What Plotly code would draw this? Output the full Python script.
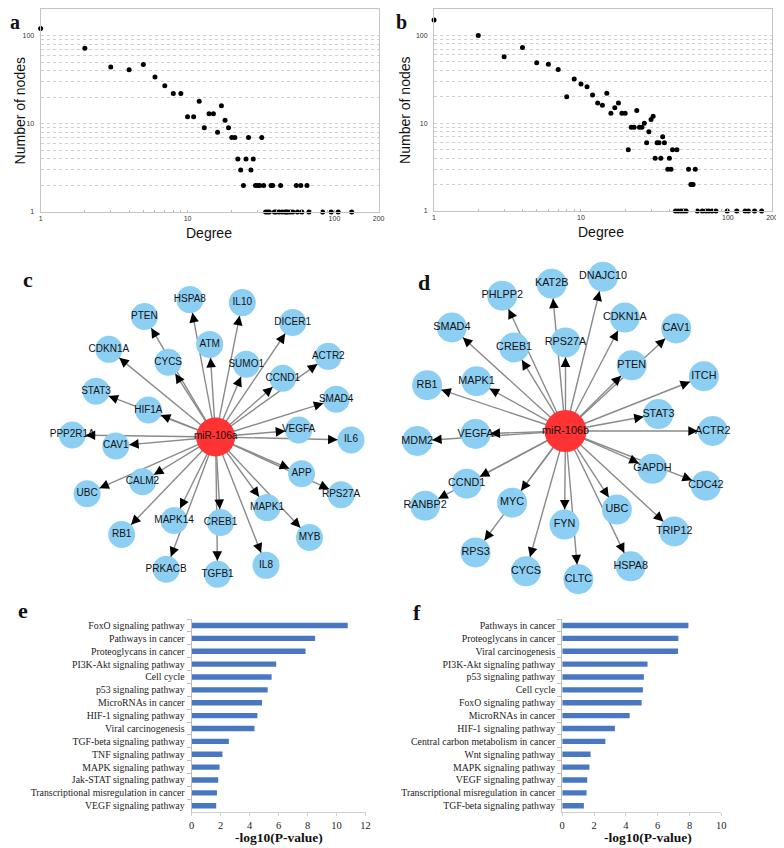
import math
import plotly.graph_objects as go

# degree distributions (panels a, b)
deg_a = [1, 2, 3, 4, 5, 6, 7, 8, 9, 10, 11, 12, 13, 14, 15, 16, 17, 18, 19, 20,
         21, 22, 23, 24, 25, 26, 27, 28, 29, 30, 31, 32, 33, 37, 38, 43, 55, 59, 65,
         34, 35, 36, 39, 40, 42, 44, 46, 47, 48, 50, 52, 56, 60, 67, 83, 95, 106, 131]
nodes_a = [120, 72, 44, 41, 47, 34, 27, 22, 22, 12, 12, 18, 9, 13, 13, 8, 16, 11, 9, 7,
           7, 4, 3, 2, 4, 7, 3, 4, 2, 2, 2, 7, 2, 2, 2, 2, 2, 2, 2,
           1, 1, 1, 1, 1, 1, 1, 1, 1, 1, 1, 1, 1, 1, 1, 1, 1, 1, 1]

deg_b = [1, 2, 3, 4, 5, 6, 7, 8, 9, 10, 11, 12, 13, 14, 15, 16, 17, 18, 19, 20,
         21, 22, 23, 24, 25, 26, 27, 28, 29, 30, 31, 32, 33, 34, 35, 36, 37, 39, 40,
         41, 42, 45, 54, 56, 57, 58, 60,
         44, 46, 48, 50, 52, 62, 67, 71, 74, 78, 83, 99, 115, 131, 138, 152, 170]
nodes_b = [150, 100, 57, 73, 49, 47, 41, 20, 32, 28, 26, 21, 17, 16, 22, 13, 15, 17, 13, 13,
           5, 9, 9, 14, 9, 9, 10, 6, 8, 11, 12, 4, 6, 6, 4, 7, 6, 3, 4,
           3, 5, 5, 3, 2, 2, 2, 3,
           1, 1, 1, 1, 1, 1, 1, 1, 1, 1, 1, 1, 1, 1, 1, 1, 1]

log_ticks = [1, 2, 3, 4, 5, 6, 7, 8, 9, 10, 20, 30, 40, 50, 60, 70, 80, 90, 100, 200]
log_labels = ["1", "", "", "", "", "", "", "", "", "10",
              "", "", "", "", "", "", "", "", "100", "200"]

# miR-106a network (panel c), layout coordinates relative to the hub
hub_c = "miR-106a"
genes_c = ["HSPA8", "IL10", "PTEN", "DICER1", "ATM", "CDKN1A", "ACTR2", "CYCS", "SUMO1",
           "CCND1", "STAT3", "SMAD4", "HIF1A", "VEGFA", "PPP2R1A", "CAV1", "IL6", "APP",
           "CALM2", "UBC", "RPS27A", "MAPK1", "MAPK14", "CREB1", "RB1", "MYB", "IL8",
           "PRKACB", "TGFB1"]
gx_c = [-26, 27, -72, 78, -6, -108, 114, -48, 31, 68, -121, 122, -68, 84, -145, -101,
        137, 87, -74, -130, 127, 52, -42, 5, -95, 95, 51, -50, 2]
gy_c = [138, 135, 121, 115, 93, 88, 81, 75, 73, 59, 46, 38, 27, 7, 2, -9,
        -3, -37, -45, -57, -58, -71, -84, -86, -98, -101, -129, -133, -138]

# miR-106b network (panel d)
hub_d = "miR-106b"
genes_d = ["DNAJC10", "KAT2B", "PHLPP2", "CDKN1A", "SMAD4", "CAV1", "RPS27A", "CREB1",
           "PTEN", "ITCH", "RB1", "MAPK1", "STAT3", "ACTR2", "VEGFA", "MDM2", "GAPDH",
           "CDC42", "CCND1", "RANBP2", "MYC", "UBC", "TRIP12", "FYN", "RPS3", "HSPA8",
           "CYCS", "CLTC"]
gx_d = [38, -14, -64, 60, -115, 112, 0, -52, 67, 140, -140, -90, 94, 149, -91, -150,
        88, 142, -100, -142, -54, 52, 110, -1, -91, 66, -40, 13]
gy_d = [155, 148, 136, 114, 104, 103, 89, 84, 66, 55, 46, 50, 17, 0, -3, -10,
        -38, -55, -53, -75, -72, -79, -101, -94, -122, -136, -141, -149]

# KEGG enrichment (panels e, f)
path_e = ["FoxO signaling pathway", "Pathways in cancer", "Proteoglycans in cancer",
          "PI3K-Akt signaling pathway", "Cell cycle", "p53 signaling pathway",
          "MicroRNAs in cancer", "HIF-1 signaling pathway", "Viral carcinogenesis",
          "TGF-beta signaling pathway", "TNF signaling pathway", "MAPK signaling pathway",
          "Jak-STAT signaling pathway", "Transcriptional misregulation in cancer",
          "VEGF signaling pathway"]
logp_e = [10.77, 8.52, 7.86, 5.84, 5.52, 5.25, 4.86, 4.54, 4.34, 2.57, 2.13, 1.93, 1.84, 1.75, 1.70]

path_f = ["Pathways in cancer", "Proteoglycans in cancer", "Viral carcinogenesis",
          "PI3K-Akt signaling pathway", "p53 signaling pathway", "Cell cycle",
          "FoxO signaling pathway", "MicroRNAs in cancer", "HIF-1 signaling pathway",
          "Central carbon metabolism in cancer", "Wnt signaling pathway",
          "MAPK signaling pathway", "VEGF signaling pathway",
          "Transcriptional misregulation in cancer", "TGF-beta signaling pathway"]
logp_f = [7.93, 7.30, 7.28, 5.36, 5.13, 5.07, 4.99, 4.24, 3.31, 2.71, 1.78, 1.71, 1.57, 1.53, 1.36]

SANS = "Liberation Sans, Arial, sans-serif"
SERIF = "Liberation Serif, Times New Roman, serif"
OFF = 8  # page body margin
W, H = 784 - OFF, 848 - OFF


def fx(p):
    return (p - OFF) / W


def fy(p):
    return 1 - (p - OFF) / H


fig = go.Figure()

# ---- a, b: degree distributions
for i, (dx, dy) in enumerate([(deg_a, nodes_a), (deg_b, nodes_b)], start=1):
    fig.add_trace(go.Scatter(x=dx, y=dy, mode="markers",
                             marker=dict(color="black", size=5),
                             xaxis="x%d" % i, yaxis="y%d" % i,
                             cliponaxis=False, showlegend=False))

log_axis = dict(type="log", range=[0, math.log10(200)], tickmode="array",
                tickvals=log_ticks, ticktext=log_labels,
                tickfont=dict(family=SANS, size=7, color="#333"),
                showline=True, mirror=True, linecolor="#c4c4c4", linewidth=1,
                zeroline=False)

fig.update_layout(
    xaxis=dict(log_axis, domain=[fx(38), fx(380)], anchor="y", showgrid=False,
               ticks="inside", ticklen=2, tickcolor="#bbb"),
    yaxis=dict(log_axis, domain=[fy(212), fy(8)], anchor="x", showgrid=True,
               gridcolor="#d0d0d0", griddash="dot", ticks="outside", ticklen=4,
               tickcolor="rgba(0,0,0,0)"),
    xaxis2=dict(log_axis, domain=[fx(436), fx(778)], anchor="y2", showgrid=False,
                ticks="inside", ticklen=2, tickcolor="#bbb"),
    yaxis2=dict(log_axis, domain=[fy(211), fy(8)], anchor="x2", showgrid=True,
                gridcolor="#d0d0d0", griddash="dot", ticks="outside", ticklen=4,
                tickcolor="rgba(0,0,0,0)"),
)


# ---- c, d: miRNA-target networks
def add_network(n, hub, genes, xs, ys, r_node, r_hub, fsize):
    xa, ya = "x%d" % n, "y%d" % n
    ex, ey = [], []
    for x, y in zip(xs, ys):
        ex += [0, x, None]
        ey += [0, y, None]
    fig.add_trace(go.Scatter(x=ex, y=ey, mode="lines", xaxis=xa, yaxis=ya,
                             line=dict(color="#8a8a8a", width=1.4),
                             hoverinfo="skip", showlegend=False))
    fig.add_trace(go.Scatter(x=xs, y=ys, mode="markers+text", text=genes,
                             textposition="middle center", xaxis=xa, yaxis=ya,
                             marker=dict(size=2 * r_node, color="#8dcff3"),
                             textfont=dict(family=SANS, size=fsize, color="#111"),
                             cliponaxis=False, showlegend=False))
    fig.add_trace(go.Scatter(x=[0], y=[0], mode="markers+text", text=[hub],
                             textposition="middle center", xaxis=xa, yaxis=ya,
                             marker=dict(size=2 * r_hub, color="#ff3333"),
                             textfont=dict(family=SANS, size=fsize, color="#111"),
                             cliponaxis=False, showlegend=False))
    for x, y in zip(xs, ys):
        d = math.hypot(x, y)
        ux, uy = x / d, y / d
        tx, ty = x - ux * r_node, y - uy * r_node
        fig.add_annotation(x=tx, y=ty, ax=tx - ux * 9, ay=ty - uy * 9,
                           xref=xa, yref=ya, axref=xa, ayref=ya, text="",
                           showarrow=True, arrowhead=2, arrowsize=1.6,
                           arrowwidth=1.2, arrowcolor="black")


add_network(3, hub_c, genes_c, gx_c, gy_c, 13.5, 19.5, 10)
add_network(4, hub_d, genes_d, gx_d, gy_d, 15, 21, 10.8)

# one axis unit = one pixel, hub at the origin
net_axis = dict(visible=False, fixedrange=True)
fig.update_layout(
    xaxis3=dict(net_axis, domain=[fx(8), fx(398)], range=[8 - 215, 398 - 215], anchor="y3"),
    yaxis3=dict(net_axis, domain=[fy(600), fy(248)], range=[438 - 600, 438 - 248], anchor="x3"),
    xaxis4=dict(net_axis, domain=[fx(398), fx(784)], range=[398 - 569, 784 - 569], anchor="y4"),
    yaxis4=dict(net_axis, domain=[fy(600), fy(248)], range=[432 - 600, 432 - 248], anchor="x4"),
)

# ---- e, f: pathway enrichment bars
for n, cats, vals in [(5, path_e, logp_e), (6, path_f, logp_f)]:
    fig.add_trace(go.Bar(x=vals, y=cats, orientation="h", width=0.42,
                         marker=dict(color="#4a77c2", line=dict(width=0)),
                         xaxis="x%d" % n, yaxis="y%d" % n, showlegend=False))

bar_x = dict(showline=True, linecolor="#d0d0d0", ticks="outside", ticklen=3,
             tickcolor="#d0d0d0", showgrid=False, zeroline=False,
             tickfont=dict(family=SERIF, size=10.5, color="#222"))
bar_y = dict(type="category", autorange="reversed", showline=True, linecolor="#bdbdbd",
             tickmode="linear", dtick=1, ticklabelstandoff=4,
             ticks="outside", tickson="boundaries", ticklen=4, tickcolor="#bdbdbd",
             showgrid=False, tickfont=dict(family=SERIF, size=9.8, color="#222"))
fig.update_layout(
    xaxis5=dict(bar_x, domain=[fx(190.7), fx(366.7)], range=[0, 12],
                tickvals=[0, 2, 4, 6, 8, 10, 12], anchor="y5"),
    yaxis5=dict(bar_y, domain=[fy(815), fy(621)], anchor="x5"),
    xaxis6=dict(bar_x, domain=[fx(565.7), fx(726.7)], range=[0, 10],
                tickvals=[0, 2, 4, 6, 8, 10], anchor="y6"),
    yaxis6=dict(bar_y, domain=[fy(815), fy(621)], anchor="x6"),
)

# ---- text: axis titles and panel letters
titles = [
    ("Number of nodes", 17, 110, -90, SANS, 14, "middle"),
    ("Degree", 208, 233, 0, SANS, 14, "middle"),
    ("Number of nodes", 406, 110, -90, SANS, 14, "middle"),
    ("Degree", 605, 232, 0, SANS, 14, "middle"),
    ("<b>-log10(P-value)</b>", 278.7, 840, 0, SERIF, 13.5, "middle"),
    ("<b>-log10(P-value)</b>", 652, 840, 0, SERIF, 13.5, "middle"),
    ("<b>a</b>", 12, 8, 0, SERIF, 20, "top"),
    ("<b>b</b>", 403, 8, 0, SERIF, 20, "top"),
    ("<b>c</b>", 25, 280, 0, SERIF, 22, "middle"),
    ("<b>d</b>", 426, 283, 0, SERIF, 22, "middle"),
    ("<b>e</b>", 20, 612, 0, SERIF, 22, "middle"),
    ("<b>f</b>", 419, 614, 0, SERIF, 22, "middle"),
]
for text, px, py, ang, fam, size, va in titles:
    fig.add_annotation(x=fx(px), y=fy(py), xref="paper", yref="paper", text=text,
                       showarrow=False, textangle=ang, xanchor="center",
                       yanchor=va, font=dict(family=fam, size=size, color="#111"))

fig.update_layout(width=W, height=H, margin=dict(l=0, r=0, t=0, b=0),
                  paper_bgcolor="white", plot_bgcolor="white", showlegend=False)

fig.write_html("out.html")
